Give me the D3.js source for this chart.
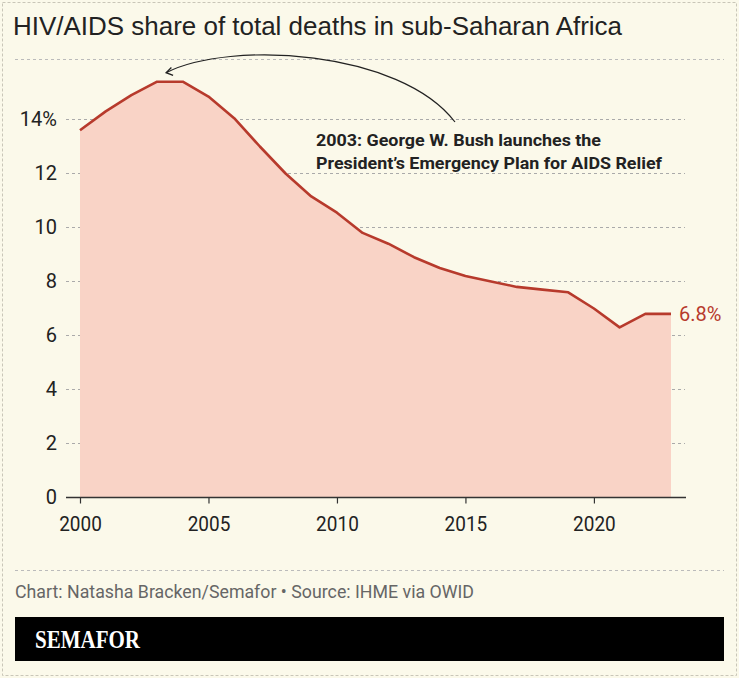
<!DOCTYPE html>
<html><head><meta charset="utf-8">
<script src="https://cdn.jsdelivr.net/npm/d3@7"></script>
<style>
html,body{margin:0;padding:0;background:#fbf9ea;}
svg{display:block;font-family:Roboto,"Noto Sans",sans-serif;}
</style></head>
<body>
<svg id="c" width="739" height="678"></svg>
<script>
const years = [2000,2001,2002,2003,2004,2005,2006,2007,2008,2009,2010,2011,2012,2013,2014,2015,2016,2017,2018,2019,2020,2021,2022,2023];
const share = [13.6,14.3,14.9,15.4,15.4,14.85,14.05,13.0,12.0,11.15,10.55,9.8,9.4,8.9,8.5,8.2,8.0,7.8,7.7,7.6,7.0,6.3,6.8,6.8];
const yTicks = [0,2,4,6,8,10,12,14];
const xTicks = [2000,2005,2010,2015,2020];
const title = "HIV/AIDS share of total deaths in sub-Saharan Africa";
const annotation = ["2003: George W. Bush launches the","President\u2019s Emergency Plan for AIDS Relief"];
const source = "Chart: Natasha Bracken/Semafor \u2022 Source: IHME via OWID";

const svg = d3.select("#c");
const W=739,H=678;
svg.append("rect").attr("x",0).attr("y",0).attr("width",W).attr("height",H).attr("fill","#fbf9ea");
svg.append("rect").attr("x",2.5).attr("y",2.5).attr("width",W-5).attr("height",H-5)
  .attr("fill","none").attr("stroke","#c9c6b8").attr("stroke-width",1).attr("stroke-dasharray","3,2");

// title
svg.append("text").attr("x",13).attr("y",35).attr("font-size",25).attr("font-weight",400)
  .attr("font-family","'Liberation Sans',Arial,sans-serif")
  .attr("fill","#222").attr("textLength",609).attr("lengthAdjust","spacingAndGlyphs").text(title);
svg.append("line").attr("x1",15).attr("x2",724).attr("y1",59.5).attr("y2",59.5)
  .attr("stroke","#bbb").attr("stroke-dasharray","3,3");

const x = d3.scaleLinear().domain([2000,2023]).range([80,671]);
const y = d3.scaleLinear().domain([0,14]).range([497.5,119.5]);

// gridlines
svg.append("g").selectAll("line").data(yTicks.filter(d=>d>0)).join("line")
  .attr("x1",66).attr("x2",685).attr("y1",d=>y(d)).attr("y2",d=>y(d))
  .attr("stroke","#aaa").attr("stroke-dasharray","3,3").attr("stroke-width",1);

const data = years.map((yr,i)=>({yr,v:share[i]}));
svg.append("path").datum(data)
  .attr("d",d3.area().x(d=>x(d.yr)).y0(y(0)).y1(d=>y(d.v)))
  .attr("fill","#f9d3c6");
svg.append("path").datum(data)
  .attr("d",d3.line().x(d=>x(d.yr)).y(d=>y(d.v)))
  .attr("fill","none").attr("stroke","#b73a2c").attr("stroke-width",2.6).attr("stroke-linejoin","round");

// x axis
const xa = svg.append("g").attr("transform",`translate(0,${y(0)})`)
  .call(d3.axisBottom(x).tickValues(xTicks).tickFormat(d3.format("d")).tickSize(6).tickPadding(13));
xa.select(".domain").attr("d","M66,0H686").attr("stroke","#333").attr("stroke-width",1.5);
xa.selectAll(".tick line").attr("stroke","#333").attr("stroke-width",1.2);
xa.selectAll("text").attr("font-size",20).attr("fill","#222").attr("font-family","Roboto")
  .attr("transform","scale(0.95,1)");

// y axis labels
const ya = svg.append("g").attr("transform","translate(57,0)")
  .call(d3.axisLeft(y).tickValues(yTicks).tickFormat(d=>d===14?"14%":d).tickSize(0).tickPadding(0));
ya.select(".domain").remove();
ya.selectAll("text").attr("font-size",20).attr("fill","#222").attr("font-family","Roboto");

// end label
const last = data[data.length-1];
svg.append("text").attr("x",x(last.yr)+8).attr("y",y(last.v)).attr("dy","0.35em")
  .attr("font-size",20).attr("fill","#b73a2c").text(d3.format(".1f")(last.v)+"%");

// annotation
svg.append("defs").append("marker").attr("id","ah").attr("viewBox","0 0 10 10")
  .attr("refX",1).attr("refY",5).attr("markerWidth",9).attr("markerHeight",11)
  .attr("orient","348").attr("markerUnits","userSpaceOnUse")
  .append("path").attr("d","M8,0.5 L1,5 L8,9.5").attr("fill","none").attr("stroke","#222").attr("stroke-width",1.4);
const tipX = x(2003)+9, tipY = y(15.4)-9;
svg.append("path").attr("d",`M455,122 C400,50 230,40 ${tipX},${tipY}`)
  .attr("fill","none").attr("stroke","#222").attr("stroke-width",1.2).attr("marker-end","url(#ah)");
const ann = svg.append("text").attr("font-size",16.5).attr("font-weight",700).attr("fill","#222");
ann.append("tspan").attr("x",316).attr("y",146).attr("textLength",285).attr("lengthAdjust","spacingAndGlyphs").text(annotation[0]);
ann.append("tspan").attr("x",316).attr("y",169).attr("textLength",346).attr("lengthAdjust","spacingAndGlyphs").text(annotation[1]);

// footer
svg.append("line").attr("x1",15).attr("x2",724).attr("y1",570.5).attr("y2",570.5)
  .attr("stroke","#bbb").attr("stroke-dasharray","3,3");
svg.append("text").attr("x",15).attr("y",598).attr("font-size",18.5).attr("fill","#666")
  .attr("textLength",459).attr("lengthAdjust","spacingAndGlyphs").text(source);
svg.append("rect").attr("x",15).attr("y",617).attr("width",709).attr("height",44).attr("fill","#000");
svg.append("text").attr("x",35).attr("y",648).attr("font-size",25).attr("font-weight",700)
  .attr("font-family","'Liberation Serif',serif").attr("fill","#fff")
  .attr("textLength",105).attr("lengthAdjust","spacingAndGlyphs").text("SEMAFOR");
</script>
</body></html>
